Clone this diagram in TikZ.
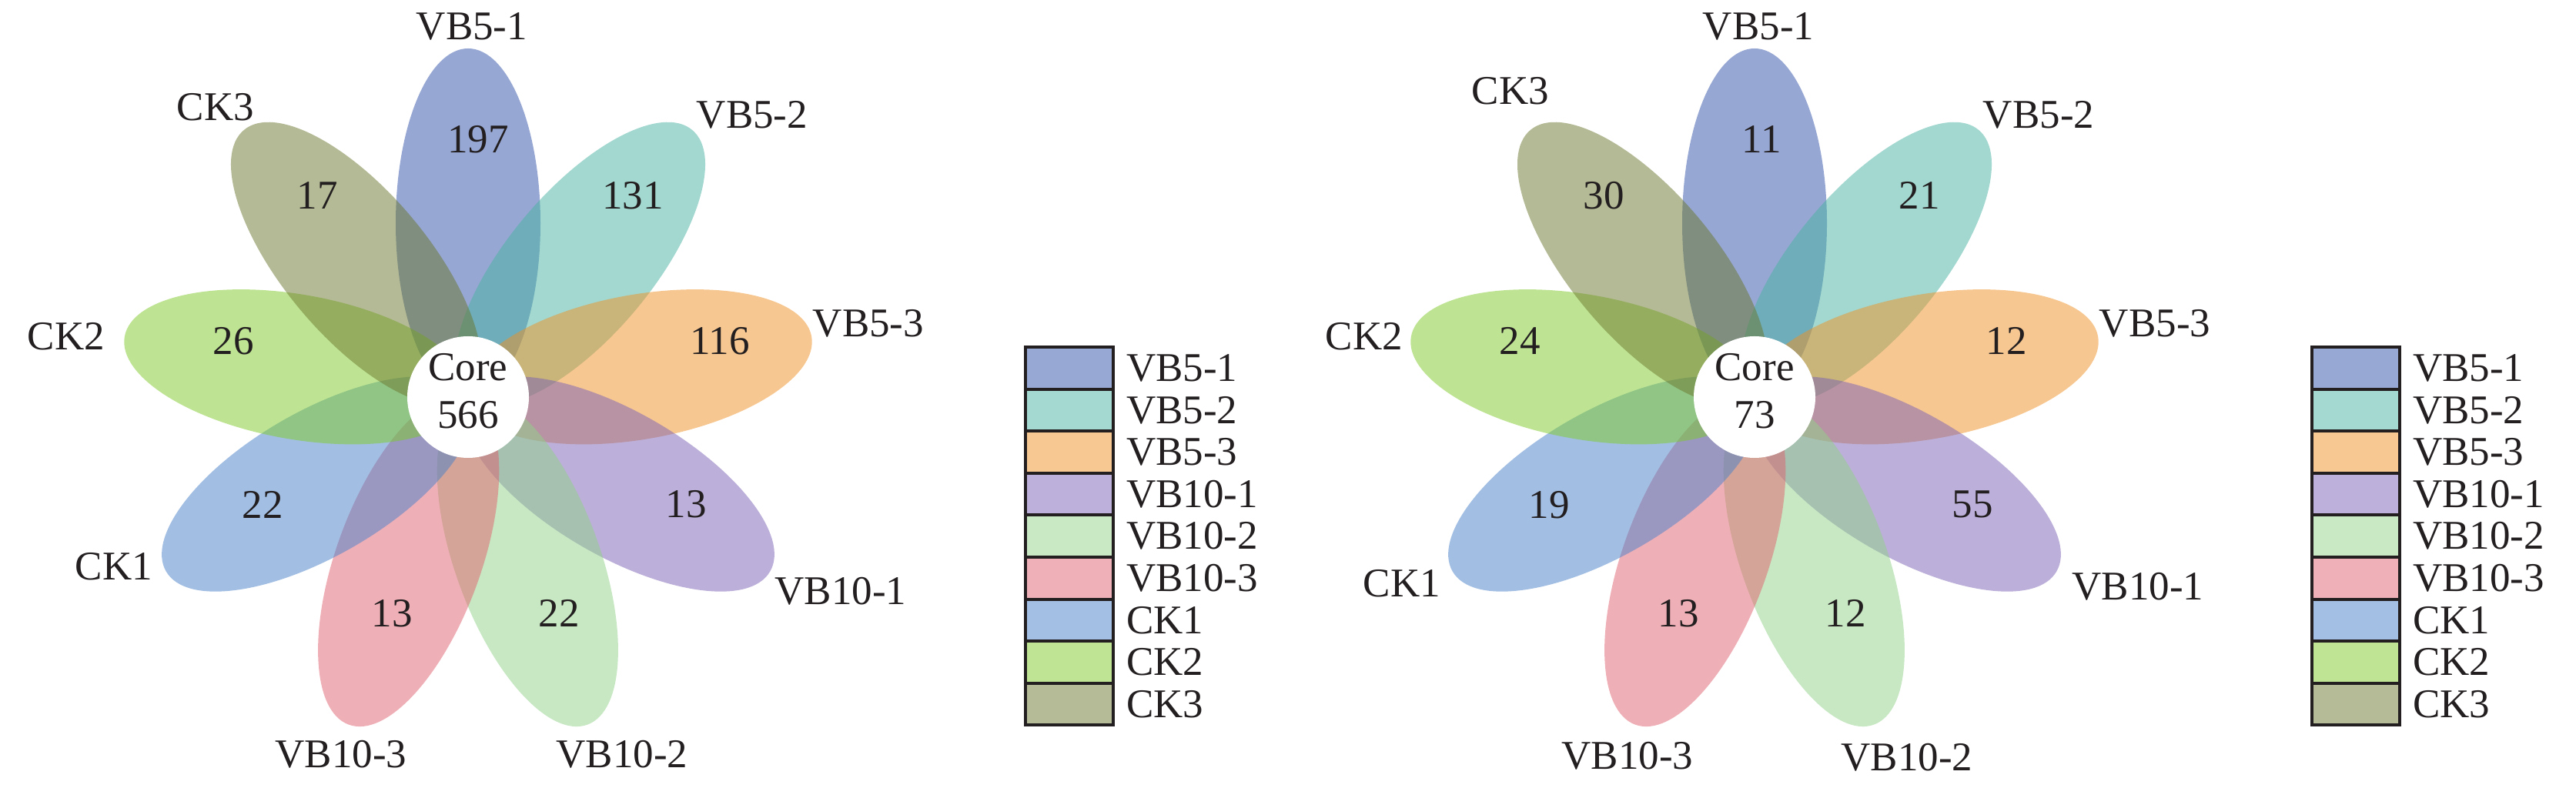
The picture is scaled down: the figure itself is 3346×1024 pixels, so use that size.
\documentclass[tikz,border=0pt]{standalone}
\usepackage{fontspec}
\setmainfont{Liberation Serif}
\definecolor{cA}{RGB}{49,81,169}
\definecolor{cB}{RGB}{71,179,161}
\definecolor{cC}{RGB}{241,145,37}
\definecolor{cD}{RGB}{123,97,181}
\definecolor{cE}{RGB}{145,211,137}
\definecolor{cF}{RGB}{225,97,113}
\definecolor{cG}{RGB}{71,129,201}
\definecolor{cH}{RGB}{127,203,41}
\definecolor{cI}{RGB}{107,119,45}
\definecolor{txt}{RGB}{35,31,32}
\newcommand\flowerpetals[1]{%
  \foreach \ang/\col in {90/cA,50/cB,10/cC,-30/cD,-70/cE,-110/cF,-150/cG,170/cH,130/cI}{%
    \fill[\col, fill opacity=0.5, shift={(#1,508)}, rotate=\ang] (226,0) ellipse [x radius=227pt, y radius=94pt];
  }}
\begin{document}
\begin{tikzpicture}[x=1pt,y=1pt,
  every node/.style={inner sep=0pt, outer sep=0pt, text=txt, font=\fontsize{53}{62}\selectfont},
  corecircle/.style={circle, fill=white, minimum size=158pt},
  legbox/.style={line width=4pt, draw=txt}]
\useasboundingbox (0,0) rectangle (3346,1024);
\fill[white] (0,0) rectangle (3346,1024);

% ---------- left flower ----------
\flowerpetals{608}
\node[corecircle] (coreL) at (608,508) {};
\node[align=center] (coreLt) at (608,516) {Core\\566};
\foreach \x/\y/\t [count=\i] in {621/843/197, 822/770/131, 935/581/116, 891/369/13, 726/227/22, 509/227/13, 341/368/22, 303/581/26, 412/770/17}{
  \node (numL\i) at (\x,\y) {\t};
}
\foreach \x/\y/\t [count=\i] in {613/990/VB5-1, 977/875/VB5-2, 1128/604/VB5-3, 1092/256/VB10-1, 808/44/VB10-2, 443/44/VB10-3, 148/288/CK1, 86/587/CK2, 280/885/CK3}{
  \node (labL\i) at (\x,\y) {\t};
}

% ---------- right flower ----------
\flowerpetals{2279}
\node[corecircle] (coreR) at (2279,508) {};
\node[align=center] (coreRt) at (2279,516) {Core\\73};
\foreach \x/\y/\t [count=\i] in {2288/843/11, 2493/770/21, 2606/581/12, 2562/369/55, 2397/227/12, 2180/227/13, 2012/368/19, 1974/581/24, 2083/770/30}{
  \node (numR\i) at (\x,\y) {\t};
}
\foreach \x/\y/\t [count=\i] in {2284/990/VB5-1, 2648/875/VB5-2, 2799/604/VB5-3, 2777/262/VB10-1, 2477/40/VB10-2, 2114/42/VB10-3, 1821/266/CK1, 1772/587/CK2, 1962/906/CK3}{
  \node (labR\i) at (\x,\y) {\t};
}

% ---------- legends ----------
\foreach \lx/\side in {1332/L, 3003/R}{
  \foreach \col/\t [count=\i from 0] in {cA/VB5-1, cB/VB5-2, cC/VB5-3, cD/VB10-1, cE/VB10-2, cF/VB10-3, cG/CK1, cH/CK2, cI/CK3}{
    \draw[legbox, fill=\col!50!white] (\lx,{573-54.6*\i}) rectangle ({\lx+114},{573-54.6*(\i+1)});
    \node[anchor=west] (leg\side\i) at ({\lx+131},{573-54.6*\i-27.3}) {\t};
  }
}
\end{tikzpicture}
\end{document}
